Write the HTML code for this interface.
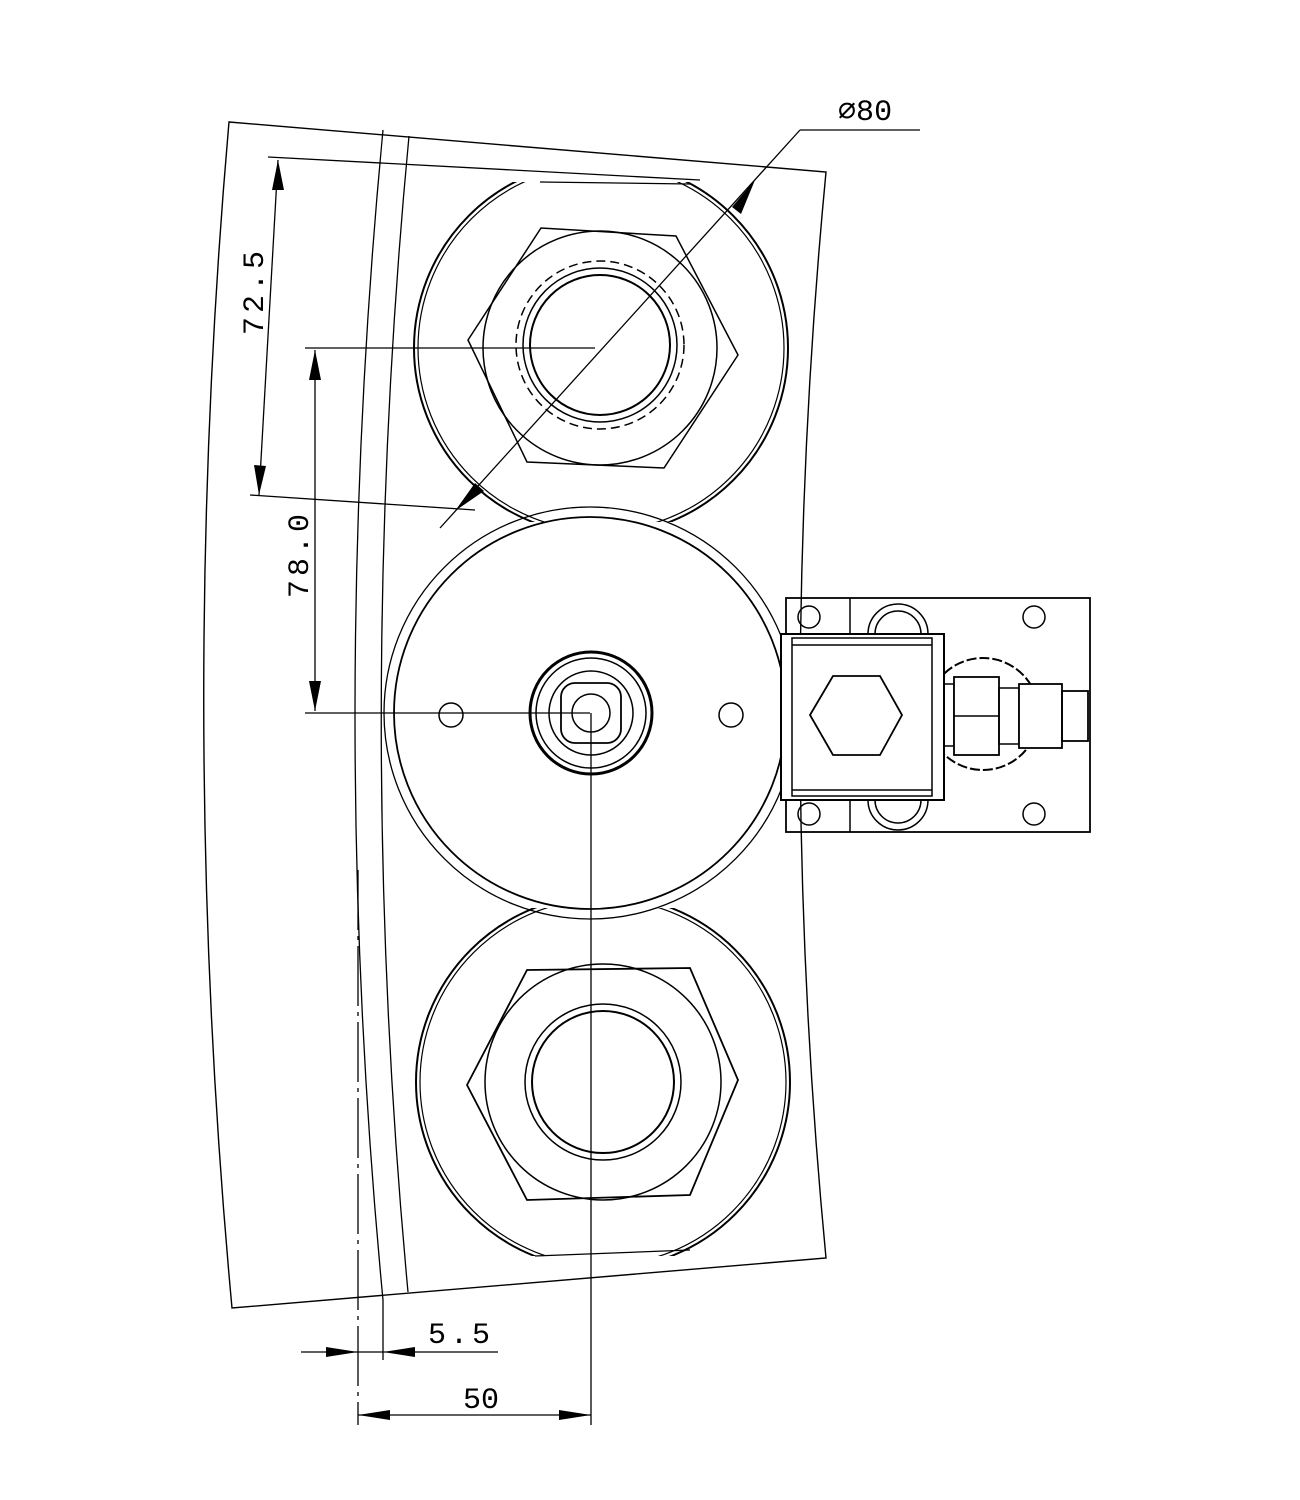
<!DOCTYPE html>
<html><head><style>html,body{margin:0;padding:0;background:#fff}svg{display:block}</style></head>
<body>
<svg width="1300" height="1500" viewBox="0 0 1300 1500" xmlns="http://www.w3.org/2000/svg" fill="none" stroke="#000" stroke-width="1.5">
<defs>
<clipPath id="ct"><rect x="300" y="182" width="600" height="340"/></clipPath>
<clipPath id="cb"><rect x="300" y="908" width="600" height="348"/></clipPath>
</defs>
<!-- body outline -->
<path d="M229,122 L826,172 Q774,715 826,1258 L232,1308 Q177,715 229,122 Z" stroke-width="1.4"/>
<path d="M383,130 Q327,715 383,1300" stroke-width="1.3"/>
<path d="M409,136 Q354,715 408,1292" stroke-width="1.3"/>
<!-- top circle -->
<g clip-path="url(#ct)">
<circle cx="601" cy="348" r="187" stroke-width="2"/>
<circle cx="601" cy="348" r="183" stroke-width="1.2"/>
</g>
<line x1="540" y1="182" x2="690" y2="184" stroke-width="1.3"/>
<polygon points="468,340 541,228 676,236 738,355 664,468 527,462" stroke-width="1.5"/>
<circle cx="600" cy="348" r="117"/>
<circle cx="600" cy="345" r="84" stroke-dasharray="9,5"/>
<circle cx="600" cy="345" r="77"/>
<circle cx="600" cy="345" r="70" stroke-width="2"/>
<!-- middle circle -->
<circle cx="590" cy="713" r="206" stroke-width="1.3"/>
<circle cx="590" cy="713" r="196" stroke-width="1.8"/>
<circle cx="591" cy="713" r="61" stroke-width="3"/>
<circle cx="591" cy="713" r="55" stroke-width="1.5"/>
<circle cx="591" cy="713" r="42" stroke-width="1.5"/>
<rect x="561" y="683" width="60" height="60" rx="14" stroke-width="1.8"/>
<circle cx="591" cy="713" r="19" stroke-width="1.5"/>
<circle cx="451" cy="715" r="12"/>
<circle cx="731" cy="715" r="12"/>
<!-- bottom circle -->
<g clip-path="url(#cb)">
<circle cx="603" cy="1082" r="187" stroke-width="2"/>
<circle cx="603" cy="1082" r="183" stroke-width="1.2"/>
</g>
<line x1="535" y1="1256" x2="690" y2="1250" stroke-width="1.3"/>
<polygon points="467,1085 527,970 690,968 738,1080 690,1195 527,1200" stroke-width="1.8"/>
<circle cx="603" cy="1082" r="118"/>
<circle cx="603" cy="1082" r="78"/>
<circle cx="603" cy="1082" r="71" stroke-width="2"/>
<!-- connector block -->
<rect x="786" y="598" width="304" height="234" stroke-width="1.8"/>
<line x1="850" y1="598" x2="850" y2="640"/><line x1="850" y1="797" x2="850" y2="832"/>
<circle cx="809" cy="617" r="11"/><circle cx="809" cy="814" r="11"/>
<circle cx="1034" cy="617" r="11"/><circle cx="1034" cy="814" r="11"/>
<path d="M868,634 A30,30 0 0 1 928,634"/><path d="M875,634 A23,23 0 0 1 921,634"/>
<path d="M868,800 A30,30 0 0 0 928,800"/><path d="M875,800 A23,23 0 0 0 921,800"/>
<circle cx="983" cy="714" r="56" stroke-dasharray="10,3" stroke-width="2"/>
<rect x="781" y="634" width="163" height="166" fill="#fff" stroke-width="2"/>
<rect x="792" y="638" width="140" height="158"/>
<line x1="792" y1="645" x2="932" y2="645"/><line x1="792" y1="790" x2="932" y2="790"/>
<polygon points="810,715 833,676 880,676 902,715 880,755 833,755" stroke-width="1.8"/>
<rect x="944" y="684" width="10" height="62"/>
<rect x="954" y="677" width="45" height="78" fill="#fff" stroke-width="1.8"/>
<line x1="954" y1="716" x2="999" y2="716"/>
<rect x="999" y="688" width="20" height="56"/>
<rect x="1019" y="684" width="43" height="64" fill="#fff" stroke-width="1.8"/>
<rect x="1062" y="691" width="26" height="50" stroke-width="1.8"/>
<!-- dimension lines -->
<g stroke-width="1.3">
<line x1="305" y1="348" x2="595" y2="348"/>
<line x1="305" y1="713" x2="590" y2="713"/>
<line x1="315" y1="350" x2="315" y2="711"/>
<line x1="268" y1="157" x2="700" y2="180"/>
<line x1="250" y1="495" x2="475" y2="510"/>
<line x1="278" y1="160" x2="259" y2="495"/>
<line x1="440" y1="528" x2="800" y2="130"/>
<line x1="800" y1="130" x2="920" y2="130"/>
<line x1="591" y1="713" x2="591" y2="1425"/>
<line x1="358" y1="870" x2="358" y2="1425" stroke-dasharray="60,6,4,6"/>
<line x1="383" y1="1300" x2="383" y2="1360"/>
<line x1="301" y1="1352" x2="498" y2="1352"/>
<line x1="358" y1="1415" x2="591" y2="1415"/>
</g>
<g fill="#000" stroke="none">
<polygon points="315,350 309,380 321,380"/>
<polygon points="315,711 309,681 321,681"/>
<polygon points="278,160 272,190 284,190"/>
<polygon points="259,495 254,465 266,466"/>
<polygon points="755,180 732,207 741,214"/>
<polygon points="455,511 475,483 484,491"/>
<polygon points="358,1352 326,1347 326,1357"/>
<polygon points="383,1352 415,1347 415,1357"/>
<polygon points="358,1415 390,1410 390,1420"/>
<polygon points="591,1415 559,1410 559,1420"/>
</g>
<g fill="#000" stroke="none" font-family="Liberation Mono, monospace" font-size="30">
<text x="838" y="120">⌀80</text>
<text x="428" y="1343" letter-spacing="4">5.5</text>
<text x="463" y="1408">50</text>
<text transform="translate(263,335) rotate(-90)" letter-spacing="4">72.5</text>
<text transform="translate(308,598) rotate(-90)" letter-spacing="4">78.0</text>
</g>
</svg>
</body></html>
